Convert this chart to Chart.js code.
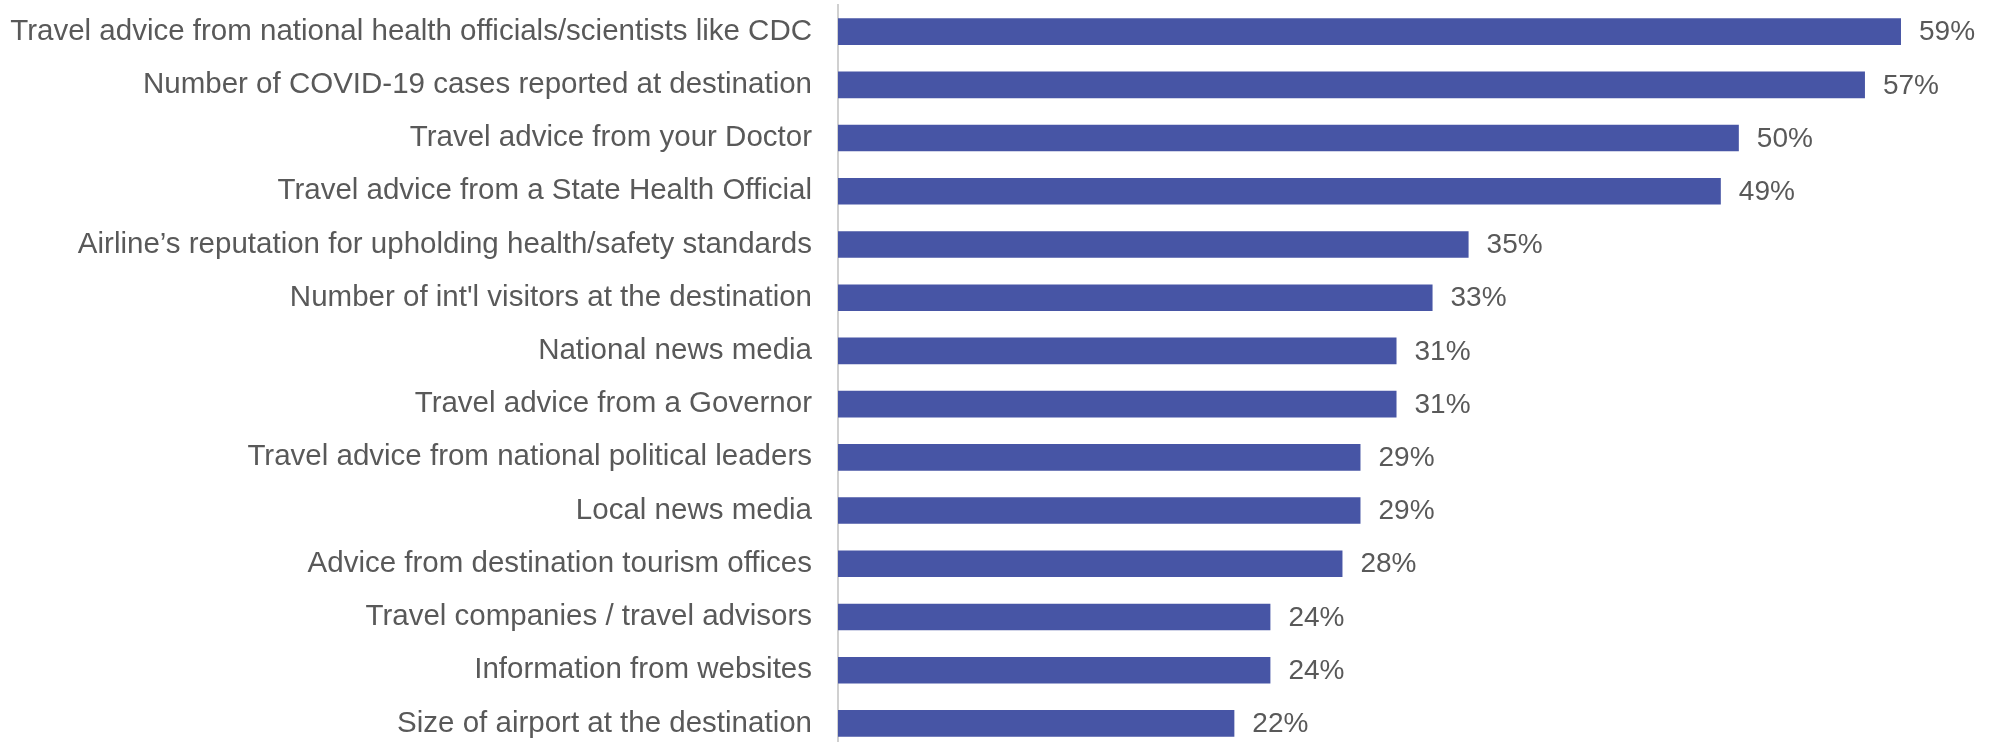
<!DOCTYPE html>
<html>
<head>
<meta charset="utf-8">
<script src="https://cdn.jsdelivr.net/npm/chart.js@4"></script>
<style>
  html, body { margin: 0; padding: 0; background: #fff; overflow: hidden; }
  #wrap { width: 1990px; height: 750px; }
</style>
</head>
<body>
<div id="wrap"><canvas id="chart"></canvas></div>
<script>
const categories = [
  "Travel advice from national health officials/scientists like CDC",
  "Number of COVID-19 cases reported at destination",
  "Travel advice from your Doctor",
  "Travel advice from a State Health Official",
  "Airline\u2019s reputation for upholding health/safety standards",
  "Number of int'l visitors at the destination",
  "National news media",
  "Travel advice from a Governor",
  "Travel advice from national political leaders",
  "Local news media",
  "Advice from destination tourism offices",
  "Travel companies / travel advisors",
  "Information from websites",
  "Size of airport at the destination"
];
const shares = [59, 57, 50, 49, 35, 33, 31, 31, 29, 29, 28, 24, 24, 22];

const textColor = "#595959";
const fontFamily = "'Liberation Sans', Arial, sans-serif";
const fontSize = 29.5;

// percent labels to the right of each bar
const valueLabels = {
  id: "valueLabels",
  afterDatasetsDraw(chart) {
    const ctx = chart.ctx;
    const meta = chart.getDatasetMeta(0);
    ctx.save();
    ctx.font = "28px " + fontFamily;
    ctx.fillStyle = textColor;
    ctx.textAlign = "left";
    ctx.textBaseline = "middle";
    meta.data.forEach((bar, i) => {
      ctx.fillText(shares[i] + "%", bar.x + 18, bar.y + 1);
    });
    ctx.restore();
  },
};

new Chart(document.getElementById("chart"), {
  type: "bar",
  data: {
    labels: categories,
    datasets: [
      {
        data: shares,
        backgroundColor: "#4755a5",
        categoryPercentage: 1,
        barPercentage: 0.5,
      },
    ],
  },
  options: {
    indexAxis: "y",
    responsive: true,
    maintainAspectRatio: false,
    animation: false,
    layout: { padding: { top: 5, right: 71, bottom: 0, left: 0 } },
    plugins: {
      legend: { display: false },
      tooltip: { enabled: false },
    },
    scales: {
      x: {
        min: 0,
        max: 60,
        display: false,
      },
      y: {
        grid: { display: false },
        border: { display: true, color: "#d0d0d0", width: 2 },
        ticks: {
          color: textColor,
          font: { family: fontFamily, size: fontSize },
          padding: 18,
        },
        afterFit(scale) {
          scale.width = 838;
          // labels sit mid-band, no extra room needed above/below
          scale.paddingTop = 0;
          scale.paddingBottom = 0;
        },
      },
    },
  },
  plugins: [valueLabels],
});
</script>
</body>
</html>
